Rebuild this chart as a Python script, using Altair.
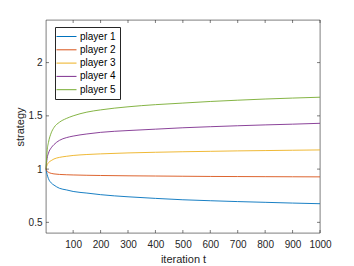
import altair as alt
import pandas as pd

t_vals = [1, 5, 10, 20, 30, 50, 75, 100, 150, 200, 300, 400, 500, 600, 700, 800, 900, 1000]
player1 = [1.0, 0.95, 0.91, 0.87, 0.85, 0.82, 0.805, 0.79, 0.775, 0.76, 0.74, 0.725, 0.712, 0.703, 0.695, 0.688, 0.681, 0.675]
player2 = [1.0, 0.98, 0.97, 0.96, 0.955, 0.95, 0.947, 0.945, 0.942, 0.94, 0.937, 0.935, 0.933, 0.931, 0.93, 0.929, 0.928, 0.927]
player3 = [1.0, 1.04, 1.06, 1.08, 1.095, 1.11, 1.12, 1.128, 1.137, 1.143, 1.152, 1.158, 1.163, 1.167, 1.171, 1.174, 1.177, 1.18]
player4 = [1.0, 1.1, 1.15, 1.2, 1.23, 1.27, 1.295, 1.31, 1.33, 1.345, 1.362, 1.375, 1.388, 1.398, 1.407, 1.415, 1.422, 1.43]
player5 = [1.0, 1.17, 1.25, 1.34, 1.39, 1.44, 1.475, 1.5, 1.535, 1.556, 1.585, 1.605, 1.62, 1.635, 1.647, 1.658, 1.667, 1.675]
names = ["player 1", "player 2", "player 3", "player 4", "player 5"]
colors = ["#0072BD", "#D95319", "#EDB120", "#7E2F8E", "#77AC30"]
x_ticks = [100, 200, 300, 400, 500, 600, 700, 800, 900, 1000]
y_ticks = [0.5, 1, 1.5, 2]

rows = []
for name, series in zip(names, [player1, player2, player3, player4, player5]):
    for t, v in zip(t_vals, series):
        rows.append({"t": t, "strategy": v, "player": name})
df = pd.DataFrame(rows)

W, H = 274, 213
FONT = "Liberation Sans"
xscale = alt.Scale(domain=[1, 1000], nice=False, zero=False)
yscale = alt.Scale(domain=[0.4, 2.4], nice=False, zero=False)

x_axis = alt.Axis(values=x_ticks, ticks=False, domain=False, grid=False,
                  labelOverlap=False, labelFlush=False, labelBound=False, format="d",
                  labelPadding=6, labelFontSize=10, labelColor="#262626",
                  titleFontSize=11, titleFontWeight="normal", titleColor="#262626",
                  titlePadding=4, labelFont=FONT, titleFont=FONT)
y_axis = alt.Axis(values=y_ticks, ticks=False, domain=False, grid=False,
                  labelOverlap=False, labelFlush=False, format="~g",
                  labelPadding=4, labelFontSize=10, labelColor="#262626",
                  titleFontSize=11, titleFontWeight="normal", titleColor="#262626",
                  titlePadding=3, labelFont=FONT, titleFont=FONT)

lines = alt.Chart(df).mark_line(strokeWidth=0.9, interpolate="monotone").encode(
    x=alt.X("t:Q", scale=xscale, title="iteration t", axis=x_axis),
    y=alt.Y("strategy:Q", scale=yscale, title="strategy", axis=y_axis),
    color=alt.Color("player:N", scale=alt.Scale(domain=names, range=colors),
                    legend=alt.Legend(title=None, orient="none", legendX=9, legendY=7,
                                      fillColor="white", strokeColor="#262626",
                                      padding=4, rowPadding=2.3, labelFontSize=10,
                                      labelFont=FONT, labelColor="#000000",
                                      symbolType="M-2,0L2,0", symbolSize=100,
                                      symbolStrokeWidth=1, symbolOffset=2, labelOffset=8)),
)

xt = pd.DataFrame({"t": x_ticks})
yt = pd.DataFrame({"v": y_ticks})
tick_color = "#262626"
bottom = alt.Chart(xt).mark_rule(color=tick_color, strokeWidth=0.6).encode(
    x=alt.X("t:Q", scale=xscale, title="iteration t", axis=x_axis), y=alt.value(H), y2=alt.value(H - 3))
top = alt.Chart(xt).mark_rule(color=tick_color, strokeWidth=0.6).encode(
    x=alt.X("t:Q", scale=xscale, title="iteration t", axis=x_axis), y=alt.value(0), y2=alt.value(3))
left = alt.Chart(yt).mark_rule(color=tick_color, strokeWidth=0.6).encode(
    y=alt.Y("v:Q", scale=yscale, title="strategy", axis=y_axis), x=alt.value(0), x2=alt.value(3))
right = alt.Chart(yt).mark_rule(color=tick_color, strokeWidth=0.6).encode(
    y=alt.Y("v:Q", scale=yscale, title="strategy", axis=y_axis), x=alt.value(W), x2=alt.value(W - 3))

chart = alt.layer(lines, bottom, top, left, right).properties(
    width=W, height=H,
    autosize=alt.AutoSizeParams(type="none"),
    padding={"left": 38, "top": 12, "right": 26, "bottom": 33},
    background="white",
).configure_view(stroke="#262626", strokeWidth=0.6)

chart.save("out.html", embed_options={"renderer": "svg", "actions": False})
